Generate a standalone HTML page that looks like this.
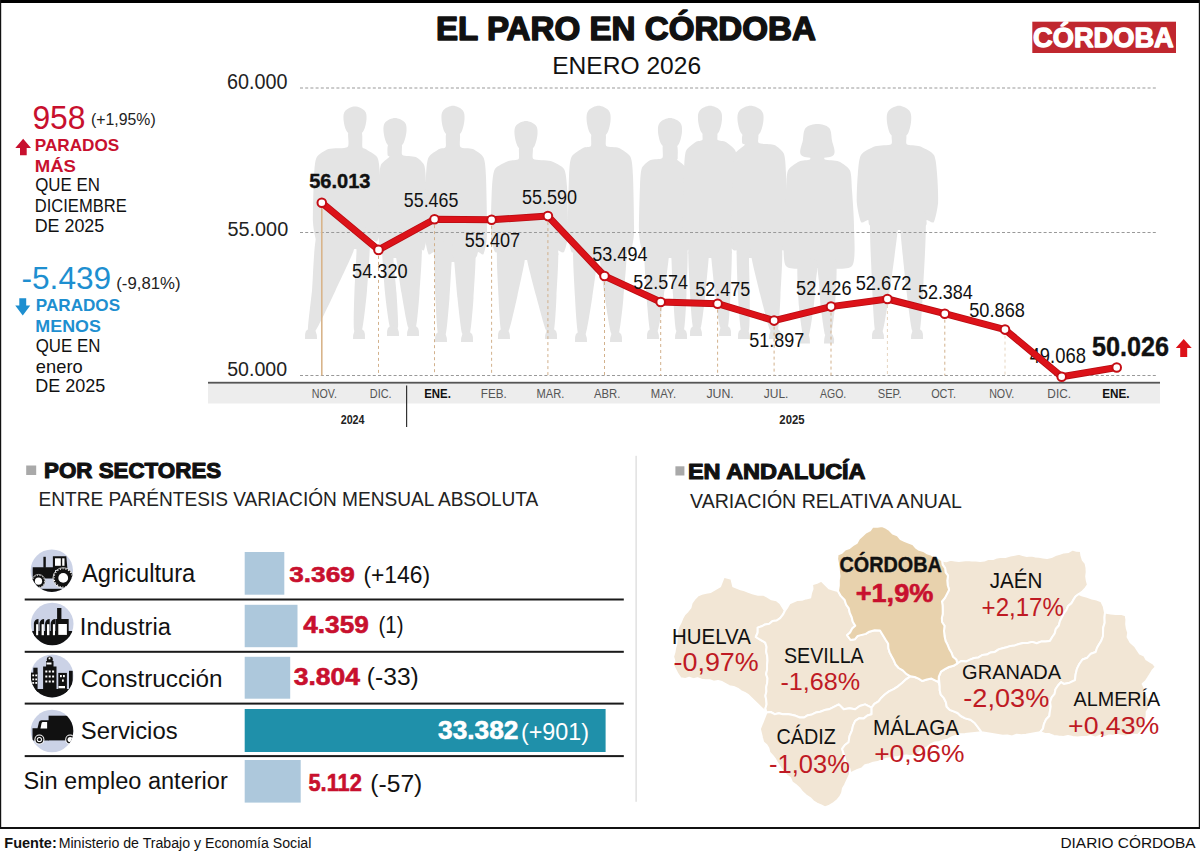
<!DOCTYPE html>
<html><head><meta charset="utf-8"><style>
html,body{margin:0;padding:0;background:#fff;}
svg{display:block;font-family:"Liberation Sans",sans-serif;}
</style></head><body>
<svg width="1200" height="852" viewBox="0 0 1200 852">
<rect x="0" y="0" width="1200" height="852" fill="#fff"/>
<g fill="#e4e4e4"><path d="M355.0,106.6 C358.2,106.6 362.7,108.7 364.7,110.8 C366.6,112.9 366.7,116.0 366.5,119.2 C366.3,122.5 365.1,127.9 363.7,130.5 C362.4,133.1 360.5,134.0 358.4,134.7 C356.4,135.4 353.6,135.4 351.6,134.7 C349.5,134.0 347.6,133.1 346.3,130.5 C344.9,127.9 343.7,122.5 343.5,119.2 C343.3,116.0 343.4,112.9 345.3,110.8 C347.3,108.7 351.8,106.6 355.0,106.6 Z"/><path d="M361.4,131.7 C363.1,133.5 361.9,145.0 362.4,147.0 C362.8,149.0 363.7,147.8 365.5,149.0 C367.2,150.2 375.7,154.3 377.4,157.6 C379.1,160.8 379.6,169.1 380.0,176.7 C380.4,184.2 381.3,214.4 381.0,221.9 C380.7,229.4 378.5,239.0 377.4,241.0 C376.2,243.0 372.3,238.5 371.4,239.0 C370.6,239.5 371.9,243.8 370.0,245.0 C368.1,246.2 361.1,249.0 355.0,249.0 C348.9,249.0 321.8,246.2 318.0,245.0 C314.2,243.8 322.7,239.5 322.6,239.0 C322.4,238.5 317.8,243.0 316.6,241.0 C315.5,239.0 313.3,229.4 313.0,221.9 C312.7,214.4 313.6,184.2 314.0,176.7 C314.4,169.1 314.9,160.8 316.6,157.6 C318.3,154.3 324.9,150.2 328.5,149.0 C332.1,147.8 345.3,149.0 347.6,147.0 C350.0,145.0 346.9,133.5 348.6,131.7 C350.2,129.9 359.8,129.9 361.4,131.7 Z"/><path d="M318.0,231.0 C322.2,225.1 350.9,229.0 354.5,231.0 C358.1,233.0 355.4,245.1 353.5,251.0 C351.6,256.9 339.2,282.5 335.5,290.4 C331.8,298.3 318.8,326.0 316.0,330.0 C313.2,334.0 308.4,334.0 308.0,330.0 C307.6,326.0 311.0,300.3 312.0,290.4 C313.0,280.5 313.8,236.9 318.0,231.0 Z"/><path d="M355.5,231.0 C356.9,229.0 368.9,225.1 370.0,231.0 C371.1,236.9 367.8,280.5 367.0,290.4 C366.2,300.3 363.3,326.0 362.0,330.0 C360.7,334.0 354.8,334.0 354.0,330.0 C353.2,326.0 354.2,298.3 354.5,290.4 C354.8,282.5 356.4,256.9 356.5,251.0 C356.6,245.1 354.1,233.0 355.5,231.0 Z"/><path d="M305.0,339 Q304.0,328 312,328 Q317.0,329 317.0,339 Z"/><path d="M365.0,339 Q366.0,328 358,328 Q353.0,329 353.0,339 Z"/><path d="M395.0,118.0 C398.2,118.0 402.7,120.2 404.7,122.3 C406.6,124.5 406.7,127.7 406.5,131.1 C406.3,134.4 405.1,140.0 403.7,142.7 C402.4,145.3 400.5,146.3 398.4,147.0 C396.4,147.7 393.6,147.7 391.6,147.0 C389.5,146.3 387.6,145.3 386.3,142.7 C384.9,140.0 383.7,134.4 383.5,131.1 C383.3,127.7 383.4,124.5 385.3,122.3 C387.3,120.2 391.8,118.0 395.0,118.0 Z"/><path d="M401.4,144.0 C403.1,145.3 400.7,153.5 402.4,155.0 C404.0,156.5 413.1,155.8 415.7,157.0 C418.2,158.2 422.9,162.0 424.1,165.0 C425.3,168.0 425.7,175.2 426.0,183.0 C426.3,190.8 427.2,224.2 427.0,232.0 C426.8,239.8 424.9,248.1 424.1,250.0 C423.3,251.9 420.3,247.5 419.9,248.0 C419.5,248.5 423.9,252.8 421.0,254.0 C418.1,255.2 399.6,258.0 395.0,258.0 C390.4,258.0 383.2,255.2 382.0,254.0 C380.8,252.8 385.2,248.5 385.1,248.0 C385.0,247.5 381.7,251.9 380.9,250.0 C380.1,248.1 378.2,239.8 378.0,232.0 C377.8,224.2 378.7,190.8 379.0,183.0 C379.3,175.2 379.7,168.0 380.9,165.0 C382.1,162.0 388.6,158.2 389.3,157.0 C390.1,155.8 387.7,156.5 387.6,155.0 C387.5,153.5 386.9,145.3 388.6,144.0 C390.2,142.7 399.8,142.7 401.4,144.0 Z"/><path d="M382.0,240.0 C382.9,234.7 393.4,238.0 394.5,240.0 C395.6,242.0 393.3,254.7 393.5,260.0 C393.7,265.3 396.1,286.1 396.5,292.8 C396.9,299.5 398.6,323.6 398.0,327.0 C397.4,330.4 391.3,330.4 390.0,327.0 C388.7,323.6 385.8,301.5 385.0,292.8 C384.2,284.1 381.1,245.3 382.0,240.0 Z"/><path d="M395.5,240.0 C397.9,238.0 418.6,234.7 421.0,240.0 C423.4,245.3 420.0,284.1 419.5,292.8 C419.0,301.5 417.1,323.6 416.0,327.0 C414.9,330.4 409.4,330.4 408.0,327.0 C406.6,323.6 402.6,299.5 401.5,292.8 C400.4,286.1 397.1,265.3 396.5,260.0 C395.9,254.7 393.1,242.0 395.5,240.0 Z"/><path d="M387.0,336 Q386.0,325 394,325 Q399.0,326 399.0,336 Z"/><path d="M419.0,336 Q420.0,325 412,325 Q407.0,326 407.0,336 Z"/><path d="M453.0,105.7 C456.2,105.7 460.7,108.0 462.7,110.2 C464.6,112.5 464.7,115.8 464.5,119.3 C464.3,122.9 463.1,128.7 461.7,131.5 C460.4,134.2 458.5,135.2 456.4,136.0 C454.4,136.8 451.6,136.8 449.6,136.0 C447.5,135.2 445.6,134.2 444.3,131.5 C442.9,128.7 441.7,122.9 441.5,119.3 C441.3,115.8 441.4,112.5 443.3,110.2 C445.3,108.0 449.8,105.7 453.0,105.7 Z"/><path d="M459.4,133.0 C461.1,134.6 458.8,145.1 460.4,147.0 C461.9,148.9 470.1,147.8 472.8,149.0 C475.5,150.2 482.1,154.4 483.6,157.7 C485.1,161.0 485.6,168.1 486.0,177.1 C486.4,186.1 487.3,225.6 487.0,234.6 C486.7,243.6 484.6,252.0 483.6,254.0 C482.6,256.0 479.2,251.5 478.2,252.0 C477.2,252.5 477.9,256.8 475.0,258.0 C472.1,259.2 457.7,262.0 453.0,262.0 C448.3,262.0 437.2,259.2 435.0,258.0 C432.8,256.8 434.6,252.5 433.8,252.0 C433.0,251.5 429.4,256.0 428.4,254.0 C427.4,252.0 425.3,243.6 425.0,234.6 C424.7,225.6 425.6,186.1 426.0,177.1 C426.4,168.1 426.9,161.0 428.4,157.7 C429.9,154.4 437.2,150.2 439.2,149.0 C441.2,147.8 444.8,148.9 445.6,147.0 C446.5,145.1 444.9,134.6 446.6,133.0 C448.2,131.4 457.8,131.4 459.4,133.0 Z"/><path d="M435.0,244.0 C436.7,238.6 450.9,242.0 452.5,244.0 C454.1,246.0 451.8,258.6 451.5,264.0 C451.2,269.4 450.1,291.0 449.5,297.9 C448.9,304.8 447.1,329.5 446.0,333.0 C444.9,336.5 439.1,336.5 438.0,333.0 C436.9,329.5 435.8,306.8 435.5,297.9 C435.2,289.0 433.3,249.4 435.0,244.0 Z"/><path d="M453.5,244.0 C455.6,242.0 473.0,238.6 475.0,244.0 C477.0,249.4 474.0,289.0 473.5,297.9 C473.0,306.8 471.1,329.5 470.0,333.0 C468.9,336.5 463.2,336.5 462.0,333.0 C460.8,329.5 458.2,304.8 457.5,297.9 C456.8,291.0 454.9,269.4 454.5,264.0 C454.1,258.6 451.4,246.0 453.5,244.0 Z"/><path d="M435.0,342 Q434.0,331 442,331 Q447.0,332 447.0,342 Z"/><path d="M473.0,342 Q474.0,331 466,331 Q461.0,332 461.0,342 Z"/><path d="M526.0,121.0 C529.2,121.0 533.7,123.2 535.7,125.3 C537.6,127.5 537.7,130.7 537.5,134.1 C537.3,137.4 536.1,143.0 534.7,145.7 C533.4,148.3 531.5,149.3 529.5,150.0 C527.4,150.7 524.6,150.7 522.5,150.0 C520.5,149.3 518.6,148.3 517.3,145.7 C515.9,143.0 514.7,137.4 514.5,134.1 C514.3,130.7 514.4,127.5 516.3,125.3 C518.3,123.2 522.8,121.0 526.0,121.0 Z"/><path d="M532.4,147.0 C534.1,148.4 531.3,157.4 533.4,159.0 C535.5,160.6 546.9,159.8 550.5,161.0 C554.1,162.2 562.1,165.9 564.0,168.9 C565.9,172.0 566.5,179.2 567.0,186.8 C567.5,194.5 568.4,226.5 568.0,234.1 C567.6,241.7 565.3,250.1 564.0,252.0 C562.7,253.9 558.1,249.5 557.2,250.0 C556.4,250.5 560.6,254.8 557.0,256.0 C553.4,257.2 532.9,260.0 526.0,260.0 C519.1,260.0 500.8,257.2 498.0,256.0 C495.2,254.8 502.1,250.5 501.8,250.0 C501.4,249.5 496.3,253.9 495.0,252.0 C493.7,250.1 491.4,241.7 491.0,234.1 C490.6,226.5 491.5,194.5 492.0,186.8 C492.5,179.2 493.1,172.0 495.0,168.9 C496.9,165.9 505.7,162.2 508.5,161.0 C511.3,159.8 517.3,160.6 518.6,159.0 C519.9,157.4 517.9,148.4 519.6,147.0 C521.2,145.6 530.8,145.6 532.4,147.0 Z"/><path d="M498.0,242.0 C500.7,236.7 522.9,240.0 525.5,242.0 C528.1,244.0 525.3,256.7 524.5,262.0 C523.7,267.3 519.0,288.6 517.5,295.4 C516.0,302.2 510.6,326.5 509.0,330.0 C507.4,333.5 502.1,333.5 501.0,330.0 C499.9,326.5 498.8,304.2 498.5,295.4 C498.2,286.6 495.3,247.3 498.0,242.0 Z"/><path d="M526.5,242.0 C529.5,240.0 554.0,236.7 557.0,242.0 C560.0,247.3 556.8,286.6 556.5,295.4 C556.2,304.2 555.0,326.5 554.0,330.0 C553.0,333.5 547.8,333.5 546.0,330.0 C544.2,326.5 537.9,302.2 536.0,295.4 C534.1,288.6 528.5,267.3 527.5,262.0 C526.5,256.7 523.5,244.0 526.5,242.0 Z"/><path d="M498.0,339 Q497.0,328 505,328 Q510.0,329 510.0,339 Z"/><path d="M557.0,339 Q558.0,328 550,328 Q545.0,329 545.0,339 Z"/><path d="M598.6,105.7 C602.0,105.7 606.7,108.0 608.7,110.4 C610.7,112.7 610.8,116.1 610.6,119.8 C610.4,123.4 609.1,129.4 607.7,132.3 C606.3,135.2 604.3,136.2 602.2,137.0 C600.1,137.8 597.1,137.8 595.0,137.0 C592.9,136.2 590.9,135.2 589.5,132.3 C588.1,129.4 586.8,123.4 586.6,119.8 C586.4,116.1 586.5,112.7 588.5,110.4 C590.5,108.0 595.2,105.7 598.6,105.7 Z"/><path d="M605.3,134.0 C607.0,135.4 604.7,144.4 606.3,146.0 C607.9,147.6 616.1,146.7 618.9,148.0 C621.7,149.3 628.8,153.5 630.4,156.8 C632.1,160.0 632.6,167.4 633.0,176.2 C633.4,185.1 634.3,223.7 634.0,232.5 C633.7,241.3 631.5,250.0 630.4,252.0 C629.4,254.0 625.2,249.5 624.7,250.0 C624.2,250.5 629.0,254.8 626.0,256.0 C623.0,257.2 604.7,260.0 598.6,260.0 C592.5,260.0 576.5,257.2 574.0,256.0 C571.5,254.8 577.6,250.5 577.3,250.0 C577.0,249.5 572.6,254.0 571.6,252.0 C570.5,250.0 568.3,241.3 568.0,232.5 C567.7,223.7 568.6,185.1 569.0,176.2 C569.4,167.4 569.9,160.0 571.6,156.8 C573.2,153.5 580.8,149.3 583.1,148.0 C585.3,146.7 589.9,147.6 590.9,146.0 C591.9,144.4 590.2,135.4 591.9,134.0 C593.6,132.6 603.6,132.6 605.3,134.0 Z"/><path d="M574.0,242.0 C576.3,236.5 595.8,240.0 598.1,242.0 C600.4,244.0 597.7,256.5 597.1,262.0 C596.5,267.5 593.4,289.9 592.3,297.0 C591.2,304.1 587.4,329.4 586.0,333.0 C584.6,336.6 579.1,336.6 578.0,333.0 C576.9,329.4 575.4,306.1 575.0,297.0 C574.6,287.9 571.7,247.5 574.0,242.0 Z"/><path d="M599.1,242.0 C601.7,240.0 623.6,236.5 626.0,242.0 C628.4,247.5 624.2,287.9 623.5,297.0 C622.8,306.1 620.2,329.4 619.0,333.0 C617.8,336.6 612.4,336.6 611.0,333.0 C609.6,329.4 605.9,304.1 604.8,297.0 C603.7,289.9 600.7,267.5 600.1,262.0 C599.5,256.5 596.5,244.0 599.1,242.0 Z"/><path d="M575.0,342 Q574.0,331 582,331 Q587.0,332 587.0,342 Z"/><path d="M622.0,342 Q623.0,331 615,331 Q610.0,332 610.0,342 Z"/><path d="M670.0,118.0 C673.4,118.0 678.1,120.2 680.1,122.5 C682.1,124.8 682.2,128.0 682.0,131.5 C681.8,135.0 680.5,140.8 679.1,143.5 C677.7,146.2 675.7,147.2 673.6,148.0 C671.5,148.8 668.5,148.8 666.4,148.0 C664.3,147.2 662.3,146.2 660.9,143.5 C659.5,140.8 658.2,135.0 658.0,131.5 C657.8,128.0 657.9,124.8 659.9,122.5 C661.9,120.2 666.6,118.0 670.0,118.0 Z"/><path d="M676.7,145.0 C678.4,146.5 677.6,156.2 677.7,158.0 C677.8,159.8 676.5,158.8 677.4,160.0 C678.4,161.2 684.8,165.0 686.1,168.0 C687.3,171.0 687.7,178.5 688.0,186.0 C688.3,193.5 689.2,224.5 689.0,232.0 C688.8,239.5 686.9,248.1 686.1,250.0 C685.2,251.9 681.7,247.5 681.8,248.0 C681.9,248.5 688.4,252.8 687.0,254.0 C685.6,255.2 674.9,258.0 670.0,258.0 C665.1,258.0 647.8,255.2 645.0,254.0 C642.2,252.8 646.6,248.5 646.2,248.0 C645.9,247.5 642.8,251.9 641.9,250.0 C641.1,248.1 639.2,239.5 639.0,232.0 C638.8,224.5 639.7,193.5 640.0,186.0 C640.3,178.5 640.7,171.0 641.9,168.0 C643.2,165.0 648.2,161.2 650.6,160.0 C652.9,158.8 660.8,159.8 662.3,158.0 C663.8,156.2 661.6,146.5 663.3,145.0 C665.0,143.5 675.0,143.5 676.7,145.0 Z"/><path d="M645.0,240.0 C647.3,234.6 667.1,238.0 669.5,240.0 C671.9,242.0 669.0,254.6 668.5,260.0 C668.0,265.4 665.0,287.4 664.0,294.4 C663.0,301.4 659.4,326.4 658.0,330.0 C656.6,333.6 651.1,333.6 650.0,330.0 C648.9,326.4 647.0,303.4 646.5,294.4 C646.0,285.4 642.7,245.4 645.0,240.0 Z"/><path d="M670.5,240.0 C672.0,238.0 685.4,234.6 687.0,240.0 C688.6,245.4 686.8,285.4 686.5,294.4 C686.2,303.4 685.0,326.4 684.0,330.0 C683.0,333.6 677.1,333.6 676.0,330.0 C674.9,326.4 673.5,301.4 673.0,294.4 C672.5,287.4 671.8,265.4 671.5,260.0 C671.2,254.6 669.0,242.0 670.5,240.0 Z"/><path d="M647.0,339 Q646.0,328 654,328 Q659.0,329 659.0,339 Z"/><path d="M687.0,339 Q688.0,328 680,328 Q675.0,329 675.0,339 Z"/><path d="M710.0,105.7 C713.4,105.7 718.1,108.0 720.1,110.2 C722.1,112.5 722.2,115.8 722.0,119.3 C721.8,122.9 720.5,128.7 719.1,131.5 C717.7,134.2 715.7,135.2 713.6,136.0 C711.5,136.8 708.5,136.8 706.4,136.0 C704.3,135.2 702.3,134.2 700.9,131.5 C699.5,128.7 698.2,122.9 698.0,119.3 C697.8,115.8 697.9,112.5 699.9,110.2 C701.9,108.0 706.6,105.7 710.0,105.7 Z"/><path d="M716.7,133.0 C718.4,133.8 716.6,138.9 717.7,140.0 C718.7,141.1 723.7,140.7 725.7,142.0 C727.8,143.3 734.0,147.5 735.4,150.8 C736.7,154.0 737.1,160.9 737.5,170.2 C737.9,179.6 738.7,221.2 738.5,230.5 C738.3,239.8 736.3,248.0 735.4,250.0 C734.4,252.0 731.1,247.5 730.5,248.0 C730.0,248.5 733.4,252.8 731.0,254.0 C728.6,255.2 714.9,258.0 710.0,258.0 C705.1,258.0 691.2,255.2 689.0,254.0 C686.8,252.8 691.3,248.5 691.0,248.0 C690.6,247.5 687.1,252.0 686.1,250.0 C685.2,248.0 683.2,239.8 683.0,230.5 C682.8,221.2 683.6,179.6 684.0,170.2 C684.4,160.9 684.8,154.0 686.1,150.8 C687.5,147.5 693.9,143.3 695.8,142.0 C697.7,140.7 701.4,141.1 702.3,140.0 C703.2,138.9 701.6,133.8 703.3,133.0 C705.0,132.2 715.0,132.2 716.7,133.0 Z"/><path d="M689.0,240.0 C691.0,234.7 707.5,238.0 709.5,240.0 C711.5,242.0 708.9,254.7 708.5,260.0 C708.1,265.3 706.2,286.1 705.5,292.8 C704.8,299.5 702.2,323.6 701.0,327.0 C699.8,330.4 694.1,330.4 693.0,327.0 C691.9,323.6 690.4,301.5 690.0,292.8 C689.6,284.1 687.0,245.3 689.0,240.0 Z"/><path d="M710.5,240.0 C712.5,238.0 729.0,234.7 731.0,240.0 C733.0,245.3 730.8,284.1 730.5,292.8 C730.2,301.5 729.0,323.6 728.0,327.0 C727.0,330.4 721.3,330.4 720.0,327.0 C718.7,323.6 715.9,299.5 715.0,292.8 C714.1,286.1 712.0,265.3 711.5,260.0 C711.0,254.7 708.5,242.0 710.5,240.0 Z"/><path d="M690.0,336 Q689.0,325 697,325 Q702.0,326 702.0,336 Z"/><path d="M731.0,336 Q732.0,325 724,325 Q719.0,326 719.0,336 Z"/><path d="M750.5,105.7 C754.1,105.7 759.3,108.0 761.4,110.4 C763.6,112.7 763.7,116.1 763.5,119.8 C763.3,123.4 761.9,129.4 760.4,132.3 C758.9,135.2 756.7,136.2 754.4,137.0 C752.1,137.8 748.9,137.8 746.6,137.0 C744.3,136.2 742.1,135.2 740.6,132.3 C739.1,129.4 737.7,123.4 737.5,119.8 C737.3,116.1 737.4,112.7 739.6,110.4 C741.7,108.0 746.9,105.7 750.5,105.7 Z"/><path d="M757.8,134.0 C759.6,135.1 756.9,141.7 758.8,143.0 C760.8,144.3 771.4,143.7 774.3,145.0 C777.3,146.3 782.5,150.5 783.9,153.8 C785.2,157.0 785.6,164.3 786.0,173.2 C786.4,182.2 787.2,221.5 787.0,230.5 C786.8,239.5 784.8,248.0 783.9,250.0 C783.0,252.0 779.4,247.5 779.1,248.0 C778.8,248.5 784.3,252.8 781.0,254.0 C777.7,255.2 755.6,258.0 750.5,258.0 C745.4,258.0 738.2,255.2 737.0,254.0 C735.8,252.8 740.1,248.5 739.9,248.0 C739.7,247.5 736.0,252.0 735.1,250.0 C734.2,248.0 732.2,239.5 732.0,230.5 C731.8,221.5 732.6,182.2 733.0,173.2 C733.4,164.3 733.8,157.0 735.1,153.8 C736.5,150.5 743.8,146.3 744.7,145.0 C745.5,143.7 742.3,144.3 742.2,143.0 C742.0,141.7 741.4,135.1 743.2,134.0 C745.0,132.9 756.0,132.9 757.8,134.0 Z"/><path d="M737.0,240.0 C738.2,234.6 748.8,238.0 750.0,240.0 C751.2,242.0 749.0,254.6 749.0,260.0 C749.0,265.4 749.8,287.4 749.8,294.4 C749.8,301.4 749.9,326.4 749.0,330.0 C748.1,333.6 742.1,333.6 741.0,330.0 C739.9,326.4 738.4,303.4 738.0,294.4 C737.6,285.4 735.8,245.4 737.0,240.0 Z"/><path d="M751.0,240.0 C753.9,238.0 778.0,234.6 781.0,240.0 C784.0,245.4 780.8,285.4 780.5,294.4 C780.2,303.4 779.0,326.4 778.0,330.0 C777.0,333.6 771.8,333.6 770.0,330.0 C768.2,326.4 762.0,301.4 760.2,294.4 C758.5,287.4 752.9,265.4 752.0,260.0 C751.1,254.6 748.1,242.0 751.0,240.0 Z"/><path d="M738.0,339 Q737.0,328 745,328 Q750.0,329 750.0,339 Z"/><path d="M781.0,339 Q782.0,328 774,328 Q769.0,329 769.0,339 Z"/><path d="M817.4,124.0 C821.3,124.0 826.6,125.2 829.0,127.8 C831.4,130.5 831.3,135.3 831.9,140.0 C832.5,144.7 837.4,153.3 832.5,156.0 C827.5,158.7 807.2,158.7 802.3,156.0 C797.4,153.3 802.3,144.7 802.9,140.0 C803.5,135.3 803.4,130.5 805.8,127.8 C808.2,125.2 813.5,124.0 817.4,124.0 Z"/><path d="M823.8,154.0 C825.4,154.7 823.2,158.7 824.9,159.6 C826.7,160.5 835.9,160.3 838.8,161.6 C841.7,162.9 848.5,167.2 850.0,170.6 C851.6,174.0 851.5,184.1 852.0,190.6 C852.5,197.1 854.0,217.2 854.0,226.0 C854.0,234.8 856.3,261.1 852.0,266.0 C847.7,270.9 825.1,268.0 817.4,268.0 C809.7,268.0 789.9,270.9 786.0,266.0 C782.1,261.1 784.0,234.8 784.0,226.0 C784.0,217.2 785.5,197.1 786.0,190.6 C786.5,184.1 786.4,174.0 788.0,170.6 C789.5,167.2 796.6,162.9 799.2,161.6 C801.8,160.3 808.5,160.5 809.9,159.6 C811.2,158.7 809.4,154.7 811.0,154.0 C812.6,153.3 822.2,153.3 823.8,154.0 Z"/><path d="M798.0,261.0 C799.8,256.5 815.1,259.0 816.9,261.0 C818.7,263.0 816.2,276.5 815.9,281.0 C815.6,285.5 814.4,301.1 813.7,306.4 C813.0,311.8 810.1,331.8 809.0,334.6 C807.9,337.4 804.0,337.4 803.0,334.6 C802.0,331.8 799.5,313.8 799.0,306.4 C798.5,299.1 796.2,265.5 798.0,261.0 Z"/><path d="M817.9,261.0 C819.6,259.0 834.3,256.5 836.0,261.0 C837.7,265.5 835.5,299.1 835.0,306.4 C834.5,313.8 832.0,331.8 831.0,334.6 C830.0,337.4 826.0,337.4 825.0,334.6 C824.0,331.8 821.3,311.8 820.7,306.4 C820.1,301.1 819.2,285.5 818.9,281.0 C818.6,276.5 816.2,263.0 817.9,261.0 Z"/><path d="M800.0,343.6 Q799.0,332.6 806,332.6 Q810.0,333.6 810.0,343.6 Z"/><path d="M834.0,343.6 Q835.0,332.6 828,332.6 Q824.0,333.6 824.0,343.6 Z"/><path d="M899.0,105.7 C902.4,105.7 907.2,108.1 909.2,110.5 C911.3,112.9 911.4,116.4 911.2,120.1 C911.0,123.8 909.7,130.0 908.3,132.9 C906.8,135.8 904.8,136.9 902.7,137.7 C900.5,138.5 897.5,138.5 895.3,137.7 C893.2,136.9 891.2,135.8 889.7,132.9 C888.3,130.0 887.0,123.8 886.8,120.1 C886.6,116.4 886.7,112.9 888.8,110.5 C890.8,108.1 895.6,105.7 899.0,105.7 Z"/><path d="M905.8,134.7 C907.5,135.8 905.2,142.9 906.8,144.3 C908.4,145.7 916.5,145.1 919.7,146.3 C922.8,147.5 931.9,151.7 933.9,155.0 C936.0,158.3 936.6,168.8 937.1,174.4 C937.6,179.9 938.5,197.1 938.1,202.6 C937.7,208.2 935.2,220.0 933.9,222.0 C932.6,224.0 927.8,219.5 926.8,220.0 C925.7,220.5 928.2,224.8 925.0,226.0 C921.8,227.2 905.3,230.0 899.0,230.0 C892.7,230.0 874.6,227.2 871.0,226.0 C867.4,224.8 869.3,220.5 868.1,220.0 C866.9,219.5 862.3,224.0 861.0,222.0 C859.7,220.0 857.2,208.2 856.8,202.6 C856.4,197.1 857.3,179.9 857.8,174.4 C858.3,168.8 858.9,158.3 861.0,155.0 C863.0,151.7 871.7,147.5 875.2,146.3 C878.8,145.1 889.2,145.7 891.2,144.3 C893.2,142.9 890.5,135.8 892.2,134.7 C893.9,133.6 904.1,133.6 905.8,134.7 Z"/><path d="M871.0,212.0 C873.6,205.0 895.9,210.0 898.5,212.0 C901.1,214.0 898.2,225.0 897.5,232.0 C896.8,239.0 892.5,272.1 891.0,281.9 C889.5,291.7 884.6,325.2 883.0,330.0 C881.4,334.8 876.1,334.8 875.0,330.0 C873.9,325.2 872.4,293.7 872.0,281.9 C871.6,270.1 868.4,219.0 871.0,212.0 Z"/><path d="M899.5,212.0 C902.0,210.0 922.6,205.0 925.0,212.0 C927.4,219.0 924.0,270.1 923.5,281.9 C923.0,293.7 921.1,325.2 920.0,330.0 C918.9,334.8 913.5,334.8 912.0,330.0 C910.5,325.2 906.6,291.7 905.5,281.9 C904.4,272.1 901.1,239.0 900.5,232.0 C899.9,225.0 897.0,214.0 899.5,212.0 Z"/><path d="M872.0,339 Q871.0,328 879,328 Q884.0,329 884.0,339 Z"/><path d="M923.0,339 Q924.0,328 916,328 Q911.0,329 911.0,339 Z"/></g>
<line x1="300" y1="88" x2="1158" y2="88" stroke="#999" stroke-width="1" stroke-dasharray="3 2.2"/>
<line x1="300" y1="232.5" x2="1158" y2="232.5" stroke="#999" stroke-width="1" stroke-dasharray="3 2.2"/>
<line x1="300" y1="375.5" x2="1158" y2="375.5" stroke="#999" stroke-width="1" stroke-dasharray="3 2.2"/>
<line x1="321.8" y1="202.7" x2="321.8" y2="375.5" stroke="#d8b48a" stroke-width="1.6"/>
<line x1="378.5" y1="249.9" x2="378.5" y2="375.5" stroke="#d2b18c" stroke-width="1" stroke-dasharray="3 3"/>
<line x1="434.5" y1="219.2" x2="434.5" y2="375.5" stroke="#d2b18c" stroke-width="1" stroke-dasharray="3 3"/>
<line x1="491.6" y1="219.8" x2="491.6" y2="375.5" stroke="#d2b18c" stroke-width="1" stroke-dasharray="3 3"/>
<line x1="547.9" y1="216.1" x2="547.9" y2="375.5" stroke="#d2b18c" stroke-width="1" stroke-dasharray="3 3"/>
<line x1="604.5" y1="276" x2="604.5" y2="375.5" stroke="#d2b18c" stroke-width="1" stroke-dasharray="3 3"/>
<line x1="660.7" y1="302" x2="660.7" y2="375.5" stroke="#d2b18c" stroke-width="1" stroke-dasharray="3 3"/>
<line x1="717.6" y1="303.7" x2="717.6" y2="375.5" stroke="#d2b18c" stroke-width="1" stroke-dasharray="3 3"/>
<line x1="774.1" y1="320.6" x2="774.1" y2="375.5" stroke="#d2b18c" stroke-width="1" stroke-dasharray="3 3"/>
<line x1="831" y1="306.6" x2="831" y2="375.5" stroke="#d2b18c" stroke-width="1" stroke-dasharray="3 3"/>
<line x1="887.4" y1="299" x2="887.4" y2="375.5" stroke="#e6d5c0" stroke-width="1" stroke-dasharray="3 3"/>
<line x1="944.8" y1="313.7" x2="944.8" y2="375.5" stroke="#d2b18c" stroke-width="1" stroke-dasharray="3 3"/>
<line x1="1005" y1="329.6" x2="1005" y2="375.5" stroke="#e6d5c0" stroke-width="1" stroke-dasharray="3 3"/>
<rect x="208" y="383" width="952" height="20.5" fill="#ededed"/>
<rect x="208" y="381.8" width="952" height="1.8" fill="#555"/>
<rect x="406" y="385.5" width="1.2" height="41.5" fill="#333"/>
<text transform="translate(1029.63 363.30) scale(0.8462 1)" font-weight="400" font-size="21.74" fill="#111">49.068</text>
<polyline points="321.8,202.7 378.5,249.9 434.5,219.2 491.6,219.8 547.9,216.1 604.5,276 660.7,302 717.6,303.7 774.1,320.6 831,306.6 887.4,299 944.8,313.7 1005,329.6 1061.7,376.7 1116.7,367.5" fill="none" stroke="#b80c12" stroke-width="7" stroke-linejoin="round" stroke-linecap="round"/>
<polyline points="321.8,202.7 378.5,249.9 434.5,219.2 491.6,219.8 547.9,216.1 604.5,276 660.7,302 717.6,303.7 774.1,320.6 831,306.6 887.4,299 944.8,313.7 1005,329.6 1061.7,376.7 1116.7,367.5" fill="none" stroke="#dc1219" stroke-width="5.4" stroke-linejoin="round" stroke-linecap="round"/>
<circle cx="321.8" cy="202.7" r="4.3" fill="#fff" stroke="#c40e15" stroke-width="2"/>
<circle cx="378.5" cy="249.9" r="4.3" fill="#fff" stroke="#c40e15" stroke-width="2"/>
<circle cx="434.5" cy="219.2" r="4.3" fill="#fff" stroke="#c40e15" stroke-width="2"/>
<circle cx="491.6" cy="219.8" r="4.3" fill="#fff" stroke="#c40e15" stroke-width="2"/>
<circle cx="547.9" cy="216.1" r="4.3" fill="#fff" stroke="#c40e15" stroke-width="2"/>
<circle cx="604.5" cy="276" r="4.3" fill="#fff" stroke="#c40e15" stroke-width="2"/>
<circle cx="660.7" cy="302" r="4.3" fill="#fff" stroke="#c40e15" stroke-width="2"/>
<circle cx="717.6" cy="303.7" r="4.3" fill="#fff" stroke="#c40e15" stroke-width="2"/>
<circle cx="774.1" cy="320.6" r="4.3" fill="#fff" stroke="#c40e15" stroke-width="2"/>
<circle cx="831" cy="306.6" r="4.3" fill="#fff" stroke="#c40e15" stroke-width="2"/>
<circle cx="887.4" cy="299" r="4.3" fill="#fff" stroke="#c40e15" stroke-width="2"/>
<circle cx="944.8" cy="313.7" r="4.3" fill="#fff" stroke="#c40e15" stroke-width="2"/>
<circle cx="1005" cy="329.6" r="4.3" fill="#fff" stroke="#c40e15" stroke-width="2"/>
<circle cx="1061.7" cy="376.7" r="4.3" fill="#fff" stroke="#c40e15" stroke-width="2"/>
<circle cx="1116.7" cy="367.5" r="4.3" fill="#fff" stroke="#c40e15" stroke-width="2"/>
<path d="M1183.7,339 L1191.7,348 L1187.2,348 L1187.2,357 L1180.2,357 L1180.2,348 L1175.8,348 Z" fill="#dc1219"/>
<rect x="26.2" y="465.5" width="10" height="9.5" fill="#a9a9a9"/>
<rect x="675.4" y="466.3" width="9" height="9.2" fill="#a9a9a9"/>
<rect x="635.5" y="455.8" width="1.2" height="346" fill="#d9d9d9"/>
<rect x="24.7" y="598.5" width="599.1" height="2" fill="#1a1a1a"/>
<rect x="24.7" y="650.8" width="599.1" height="2" fill="#1a1a1a"/>
<rect x="24.7" y="702.6" width="599.1" height="2" fill="#1a1a1a"/>
<rect x="24.7" y="755.1" width="599.1" height="2" fill="#1a1a1a"/>
<rect x="244.7" y="552" width="39.60000000000002" height="42.700000000000045" fill="#adc8dc"/>
<rect x="244.7" y="604.8" width="52.80000000000001" height="42.40000000000009" fill="#adc8dc"/>
<rect x="244.7" y="656.8" width="45.5" height="41.90000000000009" fill="#adc8dc"/>
<rect x="244.7" y="709" width="360.90000000000003" height="43" fill="#1f90aa"/>
<rect x="244.7" y="760" width="56.0" height="42.60000000000002" fill="#adc8dc"/>
<clipPath id="c1"><circle cx="51.8" cy="570.7" r="21.2"/></clipPath>
<circle cx="51.8" cy="570.7" r="21.2" fill="#cbd2e6"/>
<g clip-path="url(#c1)"><rect x="25" y="588.8" width="60" height="6" fill="#111"/><path d="M32.7,567.2 L55,567.2 L55,578.5 L32.7,578.5 Z" fill="#111"/><rect x="43.4" y="556.8" width="2.4" height="11" fill="#111"/><path d="M52.9,556.2 L66.3,556.2 L67.5,570 L52.9,570 Z" fill="#111"/><rect x="55" y="558.3" width="5.8" height="7.5" fill="#fff"/><rect x="62.2" y="558.3" width="2.3" height="7.5" fill="#fff"/><circle cx="63.2" cy="577.9" r="10.2" fill="#111" stroke="#fff" stroke-width="0.8"/><circle cx="63.2" cy="577.9" r="9.1" fill="none" stroke="#fff" stroke-width="1.1" stroke-dasharray="1.1 1.7"/><circle cx="63.2" cy="577.9" r="4.9" fill="#fff"/><circle cx="38.5" cy="581.2" r="6.8" fill="#111" stroke="#fff" stroke-width="0.6"/><circle cx="38.5" cy="581.2" r="6" fill="none" stroke="#fff" stroke-width="1" stroke-dasharray="1 1.6"/><circle cx="38.5" cy="581.2" r="3.6" fill="#fff"/></g>
<clipPath id="c2"><circle cx="52.2" cy="624" r="21.3"/></clipPath>
<circle cx="52.2" cy="624" r="21.3" fill="#cbd2e6"/>
<g clip-path="url(#c2)" fill="#111"><rect x="25" y="631" width="60" height="20"/><path d="M33.9,636 L33.9,623 Q34.9,619 38.5,619 L38.5,636 Z M39.5,636 L39.5,623 Q40.5,619 44.1,619 L44.1,636 Z M45.099999999999994,636 L45.099999999999994,623 Q46.099999999999994,619 49.7,619 L49.7,636 Z M50.699999999999996,636 L50.699999999999996,623 Q51.699999999999996,619 55.3,619 L55.3,636 Z "/><rect x="55.5" y="619" width="13.2" height="14"/><rect x="57.1" y="608" width="4.3" height="12"/><g fill="#fff"><rect x="36.1" y="624.2" width="2.1" height="11"/><rect x="41.6" y="624.2" width="2.3" height="11"/><rect x="47" y="624.2" width="2.4" height="11"/><rect x="52.9" y="624.2" width="2.1" height="11"/><rect x="58.3" y="624" width="8.6" height="10.9"/></g></g>
<clipPath id="c3"><circle cx="52.1" cy="676" r="21.4"/></clipPath>
<circle cx="52.1" cy="676" r="21.4" fill="#cbd2e6"/>
<g clip-path="url(#c3)" fill="#111"><rect x="25" y="689" width="60" height="12"/><rect x="43.1" y="666.5" width="13.4" height="25"/><rect x="46.1" y="661" width="7.4" height="7"/><circle cx="49.8" cy="659.5" r="3"/><rect x="31" y="672.6" width="6.6" height="20"/><rect x="33.3" y="667.7" width="4.3" height="6"/><rect x="58.3" y="672.9" width="8.6" height="20"/><rect x="69" y="670.8" width="3.7" height="20"/><g fill="#fff"><rect x="45.3" y="670.5" width="2" height="2"/><rect x="48.7" y="670.5" width="2" height="2"/><rect x="52.1" y="670.5" width="2" height="2"/><rect x="45.3" y="675.5" width="2" height="2"/><rect x="48.7" y="675.5" width="2" height="2"/><rect x="52.1" y="675.5" width="2" height="2"/><rect x="45.3" y="680.5" width="2" height="2"/><rect x="48.7" y="680.5" width="2" height="2"/><rect x="52.1" y="680.5" width="2" height="2"/><rect x="32.3" y="674.5" width="1.8" height="1.8"/><rect x="35.3" y="674.5" width="1.8" height="1.8"/><rect x="32.3" y="678.5" width="1.8" height="1.8"/><rect x="35.3" y="678.5" width="1.8" height="1.8"/><rect x="32.3" y="682" width="1.8" height="1.8"/><rect x="35.3" y="682" width="1.8" height="1.8"/><rect x="48.6" y="657.5" width="1.8" height="1.8"/><rect x="46.5" y="662.5" width="5" height="2"/><rect x="60" y="675" width="1.8" height="2.2"/><rect x="63" y="675" width="1.8" height="2.2"/><rect x="62" y="679.5" width="1.8" height="2.2"/><rect x="58.5" y="686" width="6.5" height="2.3"/></g></g>
<clipPath id="c4"><circle cx="52" cy="731" r="21.3"/></clipPath>
<circle cx="52" cy="731" r="21.3" fill="#cbd2e6"/>
<g clip-path="url(#c4)"><rect x="48.6" y="715.7" width="26" height="24.7" fill="#111"/><path d="M32.5,740.4 L32.5,728.3 L37.5,728.3 L39,722 Q39.5,720.3 41.5,720.3 L49,720.3 L49,740.4 Z" fill="#111"/><path d="M40.5,728.4 L41.6,723 Q41.9,722.1 42.8,722.1 L47.1,722.1 L47.1,728.4 Z" fill="#fff"/><circle cx="39.4" cy="739.5" r="5" fill="#fff"/><circle cx="39.4" cy="739.5" r="4" fill="#111"/><circle cx="39.4" cy="739.5" r="2.6" fill="#fff"/><circle cx="39.4" cy="739.5" r="1.6" fill="#111"/><circle cx="70.2" cy="739.5" r="5" fill="#fff"/><circle cx="70.2" cy="739.5" r="4" fill="#111"/><circle cx="70.2" cy="739.5" r="2.6" fill="#fff"/></g>
<path d="M723.8,576.9 L731.4,578.8 L733.2,586.3 L736.9,587.9 L740.7,589.3 L744.6,590.4 L748.3,591.9 L753.2,593.6 L758.1,594.7 L763.3,594.7 L767.6,596.8 L771.6,599.3 L776.4,600.2 L780.2,603.2 L784.9,610.7 L782.9,614.7 L780.2,618.2 L776.7,620.5 L772.6,621.0 L769.3,623.8 L765.2,624.4 L761.6,626.3 L757.7,627.6 L757.7,632.5 L755.8,637.0 L760.5,639.8 L765.2,642.6 L766.6,647.0 L766.1,651.6 L767.2,656.1 L767.5,660.6 L767.0,665.2 L767.1,669.6 L766.1,674.0 L767.5,678.4 L767.2,682.7 L766.2,687.1 L766.4,691.5 L765.4,695.7 L766.2,699.9 L766.6,704.2 L765.4,708.4 L766.4,712.6 L748.3,695.2 L744.7,692.9 L740.9,691.1 L737.5,688.6 L733.6,687.0 L729.3,686.2 L725.6,684.1 L722.0,682.0 L718.0,681.0 L713.7,681.8 L709.8,680.2 L705.6,680.3 L701.5,679.7 L697.6,678.3 L693.4,679.3 L689.2,677.7 L684.9,679.1 L680.7,678.3 L677.7,674.2 L675.4,669.7 L673.1,665.2 L674.4,661.1 L673.1,656.6 L674.4,652.5 L675.1,648.3 L676.3,644.2 L676.6,639.9 L677.2,635.7 L676.9,631.4 L678.3,627.0 L680.5,622.9 L682.2,618.6 L684.4,614.5 L687.7,611.2 L690.5,607.6 L691.7,602.8 L694.4,599.1 L697.6,595.7 L701.8,593.9 L706.2,592.7 L710.7,592.0 L715.4,589.1 L720.1,586.3 Z" fill="#f2e6d5" stroke="#fff" stroke-width="2" stroke-linejoin="round"/>
<path d="M784.9,610.7 L787.4,607.1 L789.6,603.2 L793.6,601.6 L797.6,599.9 L801.9,599.7 L806.0,598.4 L810.2,597.6 L811.0,593.2 L812.5,588.9 L812.1,584.4 L817.0,582.9 L821.5,580.7 L825.2,584.5 L829.0,588.2 L833.4,589.8 L838.0,591.0 L840.8,595.9 L844.7,600.0 L846.1,604.5 L848.8,608.4 L849.8,613.0 L851.7,617.2 L852.8,621.8 L855.3,625.8 L852.2,628.6 L850.1,632.4 L847.0,635.2 L850.6,640.0 L854.8,639.3 L857.7,635.9 L861.7,634.9 L865.8,633.9 L869.3,631.7 L874.6,630.3 L880.0,630.5 L882.9,635.2 L885.8,640.0 L888.2,643.7 L888.4,648.3 L889.6,652.4 L891.6,656.3 L893.8,660.3 L895.6,664.5 L898.7,668.0 L902.8,670.4 L906.3,673.9 L910.4,676.3 L906.0,679.3 L902.1,682.9 L898.0,686.3 L893.7,689.2 L889.0,691.4 L884.8,694.5 L881.4,697.7 L878.5,701.4 L874.4,703.9 L871.6,707.7 L865.1,704.4 L859.7,706.0 L855.2,709.3 L849.5,708.3 L843.7,709.3 L838.8,704.4 L833.9,706.9 L828.9,709.3 L824.5,710.1 L820.2,711.8 L815.8,712.6 L812.0,714.4 L807.8,715.2 L804.2,717.5 L799.8,717.5 L795.7,715.8 L791.5,714.7 L787.3,714.1 L782.9,714.2 L778.8,713.3 L774.6,714.2 L770.6,712.0 L766.4,712.6 L765.4,708.4 L766.6,704.2 L766.2,699.9 L765.4,695.7 L766.4,691.5 L766.2,687.1 L767.2,682.7 L767.5,678.4 L766.1,674.0 L767.1,669.6 L767.0,665.2 L767.5,660.6 L767.2,656.1 L766.1,651.6 L766.6,647.0 L765.2,642.6 L760.5,639.8 L755.8,637.0 L757.7,632.5 L757.7,627.6 L761.6,626.3 L765.2,624.4 L769.3,623.8 L772.6,621.0 L776.7,620.5 L780.2,618.2 L782.9,614.7 Z" fill="#f2e6d5" stroke="#fff" stroke-width="2" stroke-linejoin="round"/>
<path d="M766.4,712.6 L770.6,712.0 L774.6,714.2 L778.8,713.3 L782.9,714.2 L787.3,714.1 L791.5,714.7 L795.7,715.8 L799.8,717.5 L804.2,717.5 L807.8,715.2 L812.0,714.4 L815.8,712.6 L820.2,711.8 L824.5,710.1 L828.9,709.3 L833.9,706.9 L838.8,704.4 L843.7,709.3 L849.5,708.3 L855.2,709.3 L859.7,706.0 L865.1,704.4 L871.6,707.7 L871.6,714.2 L867.4,715.5 L863.8,718.4 L859.0,718.3 L855.2,720.8 L853.0,725.6 L851.9,730.7 L849.5,736.2 L848.6,742.2 L844.9,745.0 L842.1,748.8 L843.9,754.5 L845.3,760.3 L847.2,764.6 L849.4,768.7 L850.3,773.4 L845,785 L842.9,788.6 L842.1,792.9 L840.2,796.7 L837.5,800.0 L833.7,803.0 L829.5,805.6 L825.0,807.5 L821.1,805.4 L817.0,803.6 L813.2,801.3 L810.0,798.0 L805.9,795.3 L802.3,792.1 L799.3,788.2 L795.8,785.1 L792.0,782.4 L790.1,777.8 L786.2,775.1 L784.1,771.7 L781.0,768.9 L778.9,765.5 L776.7,762.1 L774.7,758.6 L772.2,755.5 L769.4,752.5 L768.4,748.3 L766.4,744.9 L763.2,742.2 L762.0,737.8 L761.0,733.4 L759.9,729.0 Z" fill="#f2e6d5" stroke="#fff" stroke-width="2" stroke-linejoin="round"/>
<path d="M871.6,707.7 L874.4,703.9 L878.5,701.4 L881.4,697.7 L884.8,694.5 L889.0,691.4 L893.7,689.2 L898.0,686.3 L902.1,682.9 L906.0,679.3 L910.4,676.3 L914.7,677.0 L918.6,678.6 L922.2,681.0 L926.8,679.5 L931.5,678.6 L938.6,682.2 L939.7,686.2 L939.7,690.3 L940.8,694.7 L943.9,698.2 L945.9,702.2 L946.7,706.7 L949.7,709.9 L953.7,711.4 L957.6,713.0 L960.7,716.0 L965.3,718.4 L970.5,719.7 L974.7,723.0 L978.2,727.7 L981.7,732.3 L965,734 L960.4,734.2 L956.2,735.7 L952.0,737.2 L948.0,739.4 L943.7,740.4 L939.5,742.0 L935.0,742.5 L930.7,744.5 L927.0,747.4 L922.7,749.5 L919.2,752.8 L915.0,755.0 L910.9,756.3 L906.5,755.6 L902.3,755.9 L898.1,756.9 L894.0,757.6 L889.8,758.3 L885.6,759.1 L881.5,760.3 L877.6,762.1 L873.3,762.7 L869.3,764.3 L865.1,765.2 L861.9,768.5 L857.5,770.0 L850.3,773.4 L849.4,768.7 L847.2,764.6 L845.3,760.3 L843.9,754.5 L842.1,748.8 L844.9,745.0 L848.6,742.2 L849.5,736.2 L851.9,730.7 L853.0,725.6 L855.2,720.8 L859.0,718.3 L863.8,718.4 L867.4,715.5 L871.6,714.2 Z" fill="#f2e6d5" stroke="#fff" stroke-width="2" stroke-linejoin="round"/>
<path d="M942,560.5 L946.2,561.2 L950.5,559.8 L954.7,560.4 L958.9,561.0 L963.1,560.6 L967.4,560.1 L971.6,560.5 L975.8,560.6 L980.1,561.1 L984.3,560.5 L988.5,558.8 L993.0,559.0 L997.2,557.4 L1001.5,556.7 L1006.0,556.9 L1010.3,555.5 L1014.6,554.8 L1018.9,553.8 L1022.8,555.0 L1026.8,555.9 L1031.0,555.5 L1034.9,556.4 L1039.0,556.8 L1043.0,557.4 L1047.0,558.0 L1051.4,557.0 L1055.4,555.1 L1059.7,553.9 L1063.9,552.4 L1068.5,551.9 L1072.4,549.6 L1076.5,550.7 L1080.8,551.0 L1081.4,555.5 L1082.7,559.8 L1085.6,563.5 L1086.5,567.9 L1086.7,572.1 L1086.2,576.4 L1086.8,580.6 L1087.9,584.8 L1085.4,588.4 L1082.4,591.5 L1078.8,594.0 L1075.5,596.5 L1073.3,599.9 L1071.3,603.4 L1068.1,606.0 L1066.5,609.9 L1064.0,613.0 L1062.0,617.0 L1060.0,621.0 L1058.8,625.5 L1055.8,629.0 L1054.7,633.5 L1052.1,637.2 L1049.9,641.1 L1045.5,641.4 L1041.0,641.6 L1036.7,643.2 L1032.1,641.9 L1027.7,643.0 L1023.3,643.1 L1018.9,644.0 L1014.9,645.4 L1010.7,645.9 L1006.7,647.2 L1002.6,648.3 L998.6,649.4 L994.9,651.9 L990.7,652.4 L986.8,654.6 L982.3,655.0 L978.5,657.4 L974.1,658.0 L970.0,659.6 L966.0,661.6 L961.2,661.0 L957.4,663.4 L956.2,659.4 L952.9,656.7 L951.5,652.8 L949.2,649.0 L947.6,644.9 L945.6,641.0 L944.5,636.0 L944.0,630.9 L944.5,625.8 L942.1,622.3 L941.8,618.1 L942.7,614.0 L942.7,609.8 L942.6,605.7 L942.0,601.5 L944.9,597.9 L947.0,593.9 L949.1,589.8 L947.7,585.2 L947.3,580.5 L948.0,575.7 L945.6,572.3 L945.1,568.1 L942.6,564.7 Z" fill="#f2e6d5" stroke="#fff" stroke-width="2" stroke-linejoin="round"/>
<path d="M957.4,663.4 L961.2,661.0 L966.0,661.6 L970.0,659.6 L974.1,658.0 L978.5,657.4 L982.3,655.0 L986.8,654.6 L990.7,652.4 L994.9,651.9 L998.6,649.4 L1002.6,648.3 L1006.7,647.2 L1010.7,645.9 L1014.9,645.4 L1018.9,644.0 L1023.3,643.1 L1027.7,643.0 L1032.1,641.9 L1036.7,643.2 L1041.0,641.6 L1045.5,641.4 L1049.9,641.1 L1052.1,637.2 L1054.7,633.5 L1055.8,629.0 L1058.8,625.5 L1060.0,621.0 L1062.0,617.0 L1064.0,613.0 L1066.5,609.9 L1068.1,606.0 L1071.3,603.4 L1073.3,599.9 L1075.5,596.5 L1078.8,594.0 L1082.5,595.6 L1087.2,596.9 L1091.9,598.5 L1096.7,599.5 L1101.3,601.3 L1103.8,606.7 L1105.0,612.5 L1104.5,617.5 L1104.7,622.7 L1103.2,627.6 L1103.1,632.0 L1102.9,636.5 L1101.3,640.7 L1099.1,644.3 L1097.0,648.0 L1095.7,652.0 L1090.9,653.7 L1087.3,657.7 L1082.5,659.5 L1079.3,664.0 L1076.9,668.9 L1075.6,674.4 L1075.0,680.1 L1069.7,682.7 L1063.8,683.9 L1061.0,682.2 L1058.0,685.5 L1055.5,689.2 L1054.6,693.8 L1051.7,697.3 L1050.1,701.8 L1050.7,706.7 L1049.9,711.3 L1049.3,716.0 L1046.0,719.5 L1044.0,723.8 L1043.0,728.6 L1040.0,732.3 L1026,734.7 L1021.4,735.3 L1016.7,734.7 L1012.1,736.4 L1007.4,735.5 L1002.7,735.8 L981.7,732.3 L978.2,727.7 L974.7,723.0 L970.5,719.7 L965.3,718.4 L960.7,716.0 L957.6,713.0 L953.7,711.4 L949.7,709.9 L946.7,706.7 L945.9,702.2 L943.9,698.2 L940.8,694.7 L939.7,690.3 L939.7,686.2 L938.8,676.7 L941.0,671.6 L944.9,669.1 L949.0,667.0 L953.5,665.8 Z" fill="#f2e6d5" stroke="#fff" stroke-width="2" stroke-linejoin="round"/>
<path d="M1105,612.5 L1110.7,613.5 L1115.7,614.0 L1120.8,613.7 L1125.7,615.4 L1126.4,619.7 L1126.2,624.1 L1126.8,628.4 L1128.2,632.6 L1127.6,637.0 L1130.5,642.3 L1135.0,646.3 L1137.4,650.0 L1139.9,653.6 L1144.2,655.6 L1146.4,659.5 L1149.9,661.6 L1153.3,663.7 L1155.8,667.0 L1152.5,670.4 L1150.1,674.5 L1148.0,677.9 L1145.7,681.3 L1142.6,683.9 L1144.6,687.9 L1145.5,692.3 L1147.5,696.3 L1150.0,700.0 L1149.7,704.1 L1149.2,708.2 L1146.7,711.8 L1146.6,716.0 L1146.0,720.0 L1143.6,723.5 L1142.8,727.9 L1140.9,731.7 L1138.0,735.0 L1133.9,734.8 L1129.9,735.6 L1125.8,736.5 L1121.7,735.8 L1117.3,735.0 L1112.9,735.8 L1108.6,735.6 L1104.2,737.3 L1099.8,735.8 L1095.5,737.7 L1091.0,736.1 L1086.7,737.0 L1082.0,737.1 L1077.3,737.4 L1072.7,736.9 L1068.0,736.1 L1063.3,737.0 L1058.5,736.6 L1053.8,735.9 L1049.3,734.1 L1044.5,733.8 L1040.0,732.3 L1043.0,728.6 L1044.0,723.8 L1046.0,719.5 L1049.3,716.0 L1049.9,711.3 L1050.7,706.7 L1050.1,701.8 L1051.7,697.3 L1054.6,693.8 L1055.5,689.2 L1058.0,685.5 L1061.0,682.2 L1063.8,683.9 L1069.7,682.7 L1075.0,680.1 L1075.6,674.4 L1076.9,668.9 L1079.3,664.0 L1082.5,659.5 L1087.3,657.7 L1090.9,653.7 L1095.7,652.0 L1097.0,648.0 L1099.1,644.3 L1101.3,640.7 L1102.9,636.5 L1103.1,632.0 L1103.2,627.6 L1104.7,622.7 L1104.5,617.5 Z" fill="#f2e6d5" stroke="#fff" stroke-width="2" stroke-linejoin="round"/>
<path d="M838,591 L838.8,585.7 L838.8,580.4 L839.5,576.1 L839.0,571.8 L838.7,567.5 L838.0,563.2 L837.1,558.9 L837.6,554.6 L841.8,552.8 L845.1,549.6 L849.4,548.1 L852.9,545.2 L856.8,542.8 L859.0,538.8 L862.3,535.8 L865.7,532.5 L870.0,530.3 L872.8,526.4 L877.5,526.7 L882.2,526.0 L886.2,527.9 L889.7,530.3 L892.8,533.5 L897.3,535.2 L900.6,539.0 L904.8,541.1 L909.2,542.9 L913.1,544.3 L915.9,547.6 L919.2,549.9 L923.3,551.0 L926.9,553.2 L930.9,554.5 L934.5,556.8 L938.6,557.9 L942.0,560.5 L942.6,564.7 L945.1,568.1 L945.6,572.3 L948.0,575.7 L947.3,580.5 L947.7,585.2 L949.1,589.8 L947.0,593.9 L944.9,597.9 L942.0,601.5 L942.6,605.7 L942.7,609.8 L942.7,614.0 L941.8,618.1 L942.1,622.3 L944.5,625.8 L944.0,630.9 L944.5,636.0 L945.6,641.0 L947.6,644.9 L949.2,649.0 L951.5,652.8 L952.9,656.7 L956.2,659.4 L957.4,663.4 L953.5,665.8 L949.0,667.0 L944.9,669.1 L941.0,671.6 L938.8,676.7 L938.6,682.2 L931.5,678.6 L926.8,679.5 L922.2,681.0 L918.6,678.6 L914.7,677.0 L910.4,676.3 L906.3,673.9 L902.8,670.4 L898.7,668.0 L895.6,664.5 L893.8,660.3 L891.6,656.3 L889.6,652.4 L888.4,648.3 L888.2,643.7 L885.8,640.0 L882.9,635.2 L880.0,630.5 L874.6,630.3 L869.3,631.7 L865.8,633.9 L861.7,634.9 L857.7,635.9 L854.8,639.3 L850.6,640.0 L847.0,635.2 L850.1,632.4 L852.2,628.6 L855.3,625.8 L852.8,621.8 L851.7,617.2 L849.8,613.0 L848.8,608.4 L846.1,604.5 L844.7,600.0 L840.8,595.9 Z" fill="#e8d2ad" stroke="#fff" stroke-width="2" stroke-linejoin="round"/>
<rect x="1032.3" y="21.7" width="143.7" height="31.3" fill="#c0272f"/>
<path d="M23.15,138.7 L31,148 L26.7,148 L26.7,155.3 L20,155.3 L20,148 L15.3,148 Z" fill="#c8102e"/>
<path d="M22.75,315.5 L30.25,305.5 L26.2,305.5 L26.2,298.3 L19.3,298.3 L19.3,305.5 L15.25,305.5 Z" fill="#1e8fd0"/>
<text transform="translate(435.93 40.05) scale(0.9951 1)" font-weight="700" font-size="33.33" fill="#111" stroke="#111" stroke-width="1.5" stroke-linejoin="round">EL PARO EN CÓRDOBA</text>
<text transform="translate(552.23 73.70) scale(1.0159 1)" font-weight="400" font-size="24.20" fill="#111">ENERO 2026</text>
<text transform="translate(1033.06 47.05) scale(1.0049 1)" font-weight="700" font-size="27.10" fill="#fff" stroke="#fff" stroke-width="1.3" stroke-linejoin="round">CÓRDOBA</text>
<text transform="translate(32.41 128.70) scale(0.9680 1)" font-weight="400" font-size="32.90" fill="#c8102e">958</text>
<text transform="translate(91.05 125.00) scale(0.9338 1)" font-weight="400" font-size="16.96" fill="#222">(+1,95%)</text>
<text transform="translate(34.80 150.70) scale(1.0295 1)" font-weight="700" font-size="16.67" fill="#c8102e">PARADOS</text>
<text transform="translate(34.80 171.70) scale(1.1118 1)" font-weight="700" font-size="16.67" fill="#c8102e">MÁS</text>
<text transform="translate(35.26 191.20) scale(0.9163 1)" font-weight="400" font-size="18.41" fill="#111">QUE EN</text>
<text transform="translate(34.78 211.80) scale(0.8985 1)" font-weight="400" font-size="18.41" fill="#111">DICIEMBRE</text>
<text transform="translate(34.67 231.50) scale(0.9637 1)" font-weight="400" font-size="18.55" fill="#111">DE 2025</text>
<text transform="translate(21.48 288.50) scale(1.0036 1)" font-weight="400" font-size="31.52" fill="#1e8fd0">-5.439</text>
<text transform="translate(116.24 289.30) scale(1.0067 1)" font-weight="400" font-size="16.67" fill="#222">(-9,81%)</text>
<text transform="translate(35.80 311.30) scale(1.0270 1)" font-weight="700" font-size="16.67" fill="#1e8fd0">PARADOS</text>
<text transform="translate(35.35 332.20) scale(1.0536 1)" font-weight="700" font-size="16.96" fill="#1e8fd0">MENOS</text>
<text transform="translate(35.76 352.00) scale(0.9384 1)" font-weight="400" font-size="17.97" fill="#111">QUE EN</text>
<text transform="translate(35.87 372.90) scale(0.9949 1)" font-weight="400" font-size="18.40" fill="#111">enero</text>
<text transform="translate(35.16 392.20) scale(0.9559 1)" font-weight="400" font-size="18.84" fill="#111">DE 2025</text>
<text transform="translate(227.01 88.70) scale(0.9277 1)" font-weight="400" font-size="21.30" fill="#222">60.000</text>
<text transform="translate(227.51 235.80) scale(0.9722 1)" font-weight="400" font-size="20.43" fill="#222">55.000</text>
<text transform="translate(227.22 375.70) scale(0.9642 1)" font-weight="400" font-size="20.29" fill="#222">50.000</text>
<text transform="translate(309.20 187.70) scale(0.9820 1)" font-weight="700" font-size="20.43" fill="#111" stroke="#111" stroke-width="0.4" stroke-linejoin="round">56.013</text>
<text transform="translate(352.07 277.60) scale(0.9228 1)" font-weight="400" font-size="19.71" fill="#111">54.320</text>
<text transform="translate(403.79 206.50) scale(0.8926 1)" font-weight="400" font-size="20.00" fill="#111">55.465</text>
<text transform="translate(464.78 246.60) scale(0.9173 1)" font-weight="400" font-size="19.71" fill="#111">55.407</text>
<text transform="translate(521.98 203.50) scale(0.8818 1)" font-weight="400" font-size="20.43" fill="#111">55.590</text>
<text transform="translate(592.28 261.30) scale(0.8594 1)" font-weight="400" font-size="21.01" fill="#111">53.494</text>
<text transform="translate(633.28 289.00) scale(0.8515 1)" font-weight="400" font-size="21.01" fill="#111">52.574</text>
<text transform="translate(695.28 296.10) scale(0.8619 1)" font-weight="400" font-size="20.87" fill="#111">52.475</text>
<text transform="translate(749.28 346.50) scale(0.8572 1)" font-weight="400" font-size="21.01" fill="#111">51.897</text>
<text transform="translate(796.08 295.00) scale(0.8680 1)" font-weight="400" font-size="20.87" fill="#111">52.426</text>
<text transform="translate(855.67 289.90) scale(0.8806 1)" font-weight="400" font-size="20.72" fill="#111">52.672</text>
<text transform="translate(917.88 299.40) scale(0.8622 1)" font-weight="400" font-size="20.87" fill="#111">52.384</text>
<text transform="translate(969.27 316.50) scale(0.8961 1)" font-weight="400" font-size="20.29" fill="#111">50.868</text>
<text transform="translate(1091.94 355.60) scale(0.9305 1)" font-weight="700" font-size="27.10" fill="#111" stroke="#111" stroke-width="0.4" stroke-linejoin="round">50.026</text>
<text transform="translate(311.84 398.00) scale(0.7846 1)" font-weight="400" font-size="13.62" fill="#555">NOV.</text>
<text transform="translate(369.83 398.00) scale(0.8022 1)" font-weight="400" font-size="13.62" fill="#555">DIC.</text>
<text transform="translate(424.20 398.00) scale(0.8379 1)" font-weight="700" font-size="13.62" fill="#111">ENE.</text>
<text transform="translate(480.76 398.00) scale(0.8594 1)" font-weight="400" font-size="13.62" fill="#555">FEB.</text>
<text transform="translate(536.41 398.00) scale(0.8191 1)" font-weight="400" font-size="13.62" fill="#555">MAR.</text>
<text transform="translate(594.00 398.00) scale(0.8291 1)" font-weight="400" font-size="13.62" fill="#555">ABR.</text>
<text transform="translate(650.80 398.00) scale(0.8262 1)" font-weight="400" font-size="13.62" fill="#555">MAY.</text>
<text transform="translate(706.45 398.00) scale(0.9045 1)" font-weight="400" font-size="13.62" fill="#555">JUN.</text>
<text transform="translate(763.76 398.00) scale(0.8816 1)" font-weight="400" font-size="13.62" fill="#555">JUL.</text>
<text transform="translate(820.00 398.00) scale(0.7706 1)" font-weight="400" font-size="13.62" fill="#555">AGO.</text>
<text transform="translate(877.74 398.00) scale(0.8180 1)" font-weight="400" font-size="13.62" fill="#555">SEP.</text>
<text transform="translate(931.16 398.00) scale(0.7992 1)" font-weight="400" font-size="13.62" fill="#555">OCT.</text>
<text transform="translate(989.14 398.00) scale(0.7846 1)" font-weight="400" font-size="13.62" fill="#555">NOV.</text>
<text transform="translate(1047.35 398.00) scale(0.8704 1)" font-weight="400" font-size="13.62" fill="#555">DIC.</text>
<text transform="translate(1102.18 398.00) scale(0.8614 1)" font-weight="700" font-size="13.62" fill="#111">ENE.</text>
<text transform="translate(340.68 424.40) scale(0.8609 1)" font-weight="700" font-size="12.46" fill="#222">2024</text>
<text transform="translate(779.36 424.40) scale(0.9095 1)" font-weight="700" font-size="12.46" fill="#222">2025</text>
<text transform="translate(43.98 478.20) scale(1.0186 1)" font-weight="700" font-size="21.96" fill="#111" stroke="#111" stroke-width="1.1" stroke-linejoin="round">POR SECTORES</text>
<text transform="translate(38.47 505.50) scale(0.9414 1)" font-weight="400" font-size="20.29" fill="#222">ENTRE PARÉNTESIS VARIACIÓN MENSUAL ABSOLUTA</text>
<text transform="translate(687.91 479.05) scale(1.1091 1)" font-weight="700" font-size="21.16" fill="#111" stroke="#111" stroke-width="1.1" stroke-linejoin="round">EN ANDALUCÍA</text>
<text transform="translate(690.10 508.10) scale(0.9445 1)" font-weight="400" font-size="20.72" fill="#222">VARIACIÓN RELATIVA ANUAL</text>
<text transform="translate(82.00 582.00) scale(0.9346 1)" font-weight="400" font-size="25.36" fill="#111">Agricultura</text>
<text transform="translate(79.86 634.50) scale(0.9687 1)" font-weight="400" font-size="24.50" fill="#111">Industria</text>
<text transform="translate(80.78 687.00) scale(0.9919 1)" font-weight="400" font-size="24.50" fill="#111">Construcción</text>
<text transform="translate(80.81 738.50) scale(0.9682 1)" font-weight="400" font-size="24.64" fill="#111">Servicios</text>
<text transform="translate(23.52 788.70) scale(0.9734 1)" font-weight="400" font-size="24.20" fill="#111">Sin empleo anterior</text>
<text transform="translate(289.28 582.40) scale(1.1444 1)" font-weight="700" font-size="22.90" fill="#c8102e" stroke="#c8102e" stroke-width="0.6" stroke-linejoin="round">3.369</text>
<text transform="translate(363.43 582.70) scale(0.9938 1)" font-weight="400" font-size="23.00" fill="#111">(+146)</text>
<text transform="translate(303.28 632.50) scale(1.1151 1)" font-weight="700" font-size="23.50" fill="#c8102e" stroke="#c8102e" stroke-width="0.6" stroke-linejoin="round">4.359</text>
<text transform="translate(378.58 632.80) scale(0.8854 1)" font-weight="400" font-size="23.00" fill="#111">(1)</text>
<text transform="translate(293.77 685.00) scale(1.1256 1)" font-weight="700" font-size="23.50" fill="#c8102e" stroke="#c8102e" stroke-width="0.6" stroke-linejoin="round">3.804</text>
<text transform="translate(366.82 685.30) scale(1.0706 1)" font-weight="400" font-size="23.00" fill="#111">(-33)</text>
<text transform="translate(438.07 739.40) scale(1.0298 1)" font-weight="700" font-size="25.51" fill="#fff" stroke="#fff" stroke-width="0.6" stroke-linejoin="round">33.382</text>
<text transform="translate(520.90 739.70) scale(1.0155 1)" font-weight="400" font-size="23.00" fill="#fff">(+901)</text>
<text transform="translate(308.45 791.20) scale(0.9279 1)" font-weight="700" font-size="23.50" fill="#c8102e" stroke="#c8102e" stroke-width="0.6" stroke-linejoin="round">5.112</text>
<text transform="translate(370.32 791.50) scale(1.0706 1)" font-weight="400" font-size="23.00" fill="#111">(-57)</text>
<text transform="translate(839.41 572.30) scale(0.9369 1)" font-weight="700" font-size="21.16" fill="#111" stroke="#111" stroke-width="0.4" stroke-linejoin="round">CÓRDOBA</text>
<text transform="translate(855.72 602.20) scale(1.0749 1)" font-weight="700" font-size="25.22" fill="#c8102e" stroke="#c8102e" stroke-width="0.6" stroke-linejoin="round">+1,9%</text>
<text transform="translate(989.79 587.90) scale(0.9609 1)" font-weight="400" font-size="21.45" fill="#111">JAÉN</text>
<text transform="translate(981.60 616.00) scale(0.9496 1)" font-weight="400" font-size="25.36" fill="#bf1a24">+2,17%</text>
<text transform="translate(672.12 643.60) scale(0.9490 1)" font-weight="400" font-size="21.52" fill="#111">HUELVA</text>
<text transform="translate(673.52 670.75) scale(1.0610 1)" font-weight="400" font-size="25.36" fill="#bf1a24">-0,97%</text>
<text transform="translate(783.92 662.90) scale(0.9111 1)" font-weight="400" font-size="21.59" fill="#111">SEVILLA</text>
<text transform="translate(780.39 690.00) scale(1.0472 1)" font-weight="400" font-size="24.06" fill="#bf1a24">-1,68%</text>
<text transform="translate(962.10 679.40) scale(1.0083 1)" font-weight="400" font-size="19.86" fill="#111">GRANADA</text>
<text transform="translate(963.31 706.90) scale(1.0706 1)" font-weight="400" font-size="25.36" fill="#bf1a24">-2,03%</text>
<text transform="translate(1073.60 705.80) scale(0.9875 1)" font-weight="400" font-size="20.00" fill="#111">ALMERÍA</text>
<text transform="translate(1068.07 734.30) scale(1.0888 1)" font-weight="400" font-size="24.49" fill="#bf1a24">+0,43%</text>
<text transform="translate(776.41 744.10) scale(0.9291 1)" font-weight="400" font-size="21.30" fill="#111">CÁDIZ</text>
<text transform="translate(768.98 772.50) scale(1.0126 1)" font-weight="400" font-size="25.22" fill="#bf1a24">-1,03%</text>
<text transform="translate(872.95 734.90) scale(0.9731 1)" font-weight="400" font-size="21.23" fill="#111">MÁLAGA</text>
<text transform="translate(874.18 761.50) scale(1.1051 1)" font-weight="400" font-size="23.91" fill="#bf1a24">+0,96%</text>
<text transform="translate(4.28 848.20) scale(0.9373 1)" font-weight="700" font-size="15.51" fill="#111">Fuente:</text>
<text transform="translate(58.67 848.20) scale(0.9141 1)" font-weight="400" font-size="15.51" fill="#111">Ministerio de Trabajo y Economía Social</text>
<text transform="translate(1060.47 848.30) scale(1.0326 1)" font-weight="400" font-size="14.93" fill="#111">DIARIO CÓRDOBA</text>
<rect x="0" y="0" width="1200" height="3" fill="#000"/>
<rect x="0" y="0" width="1.2" height="829" fill="#111"/>
<rect x="1198.8" y="0" width="1.2" height="829" fill="#111"/>
<rect x="0" y="827" width="1200" height="2" fill="#111"/>
</svg>
</body></html>
